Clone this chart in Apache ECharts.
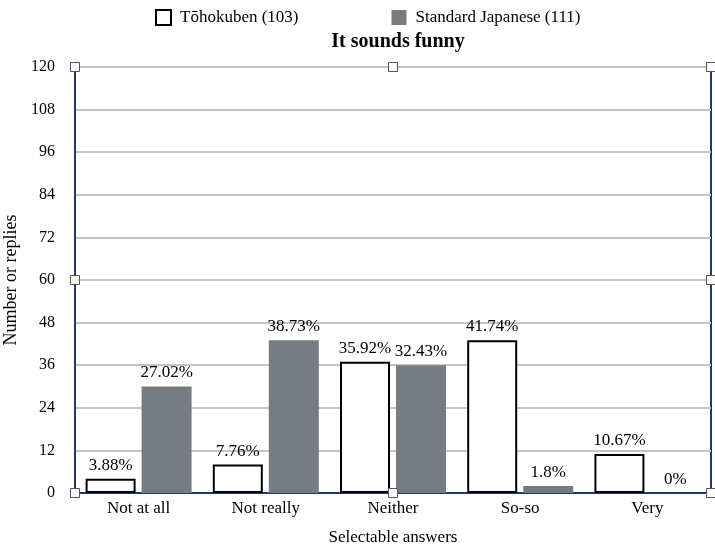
<!DOCTYPE html>
<html><head><meta charset="utf-8">
<script src="https://cdn.jsdelivr.net/npm/echarts@6/dist/echarts.min.js"></script>
<style>html,body{margin:0;padding:0;background:#fff}#c{width:715px;height:547px}</style>
</head><body><div id="c"></div>
<script>
const categories = ['Not at all', 'Not really', 'Neither', 'So-so', 'Very'];
const tohokuValues = [4, 8, 37, 43, 11];
const tohokuPct = ['3.88%', '7.76%', '35.92%', '41.74%', '10.67%'];
const standardValues = [30, 43, 36, 2, 0];
const standardPct = ['27.02%', '38.73%', '32.43%', '1.8%', '0%'];
const yTicks = [0, 12, 24, 36, 48, 60, 72, 84, 96, 108, 120];

const FONT = '"Liberation Serif", "Times New Roman", serif';
const chart = echarts.init(document.getElementById('c'));
const option = {
  animation: false,
  textStyle: { fontFamily: FONT, color: '#000' },
  title: {
    text: 'It sounds funny', left: 393, top: 27, textAlign: 'center',
    textStyle: { fontFamily: FONT, fontSize: 20, fontWeight: 'bold', color: '#000' }
  },
  legend: {
    top: 4, left: 150, itemGap: 93, itemWidth: 15, itemHeight: 15,
    textStyle: { fontFamily: FONT, fontSize: 17, color: '#000', padding: [0, 0, 0, 4] },
    data: [
      { name: 'Tōhokuben (103)', icon: 'rect', itemStyle: { color: '#fff', borderColor: '#000', borderWidth: 2 } },
      { name: 'Standard Japanese (111)', icon: 'rect', itemStyle: { color: '#777c83' } }
    ]
  },
  grid: { left: 75, right: 4, top: 67, bottom: 54, show: true, borderColor: '#1f3a6e', borderWidth: 2,
    outerBoundsMode: 'none', containLabel: false },
  xAxis: {
    type: 'category', data: categories,
    axisLine: { show: true, lineStyle: { color: '#1f3a6e', width: 2 } },
    axisTick: { show: false },
    axisLabel: { fontFamily: FONT, fontSize: 17, color: '#000', margin: 7 },
    name: 'Selectable answers', nameLocation: 'middle', nameGap: 36,
    nameTextStyle: { fontFamily: FONT, fontSize: 17, color: '#000' }
  },
  yAxis: {
    type: 'value', min: 0, max: 120, interval: 12,
    axisLine: { show: true, lineStyle: { color: '#1f3a6e', width: 2 } },
    axisTick: { show: false },
    axisLabel: { fontFamily: FONT, fontSize: 16, color: '#000', margin: 20,
      formatter: v => yTicks.includes(v) ? String(v) : '' },
    splitLine: { show: true, lineStyle: { color: '#c4c4c4', width: 2 } },
    name: 'Number or replies', nameLocation: 'middle', nameGap: 54, nameRotate: 90,
    nameTextStyle: { fontFamily: FONT, fontSize: 18, color: '#000' }
  },
  series: [
    {
      name: 'Tōhokuben (103)', type: 'bar', data: tohokuValues,
      barWidth: 50, barGap: '12%',
      itemStyle: { color: '#fff', borderColor: '#000', borderWidth: 2 },
      label: { show: true, position: 'top', distance: 5, fontFamily: FONT, fontSize: 17, color: '#000',
        formatter: p => tohokuPct[p.dataIndex] }
    },
    {
      name: 'Standard Japanese (111)', type: 'bar', data: standardValues,
      barWidth: 50,
      itemStyle: { color: '#777c83' },
      label: { show: true, position: 'top', distance: 5, fontFamily: FONT, fontSize: 17, color: '#000',
        formatter: p => standardPct[p.dataIndex] }
    }
  ]
};
chart.setOption(option);

// selection handles on the plot frame
const rect = chart.getModel().getComponent('grid').coordinateSystem.getRect();
const xs = [rect.x, rect.x + rect.width / 2, rect.x + rect.width];
const ys = [rect.y, rect.y + rect.height / 2, rect.y + rect.height];
const handles = [];
ys.forEach((y, i) => xs.forEach((x, j) => {
  if (i === 1 && j === 1) return;
  handles.push({ type: 'rect', z: 100, shape: { x: x - 4.5, y: y - 4.5, width: 9, height: 9 },
    style: { fill: '#fff', stroke: '#555', lineWidth: 1 } });
}));
chart.setOption({ graphic: handles });
</script></body></html>
